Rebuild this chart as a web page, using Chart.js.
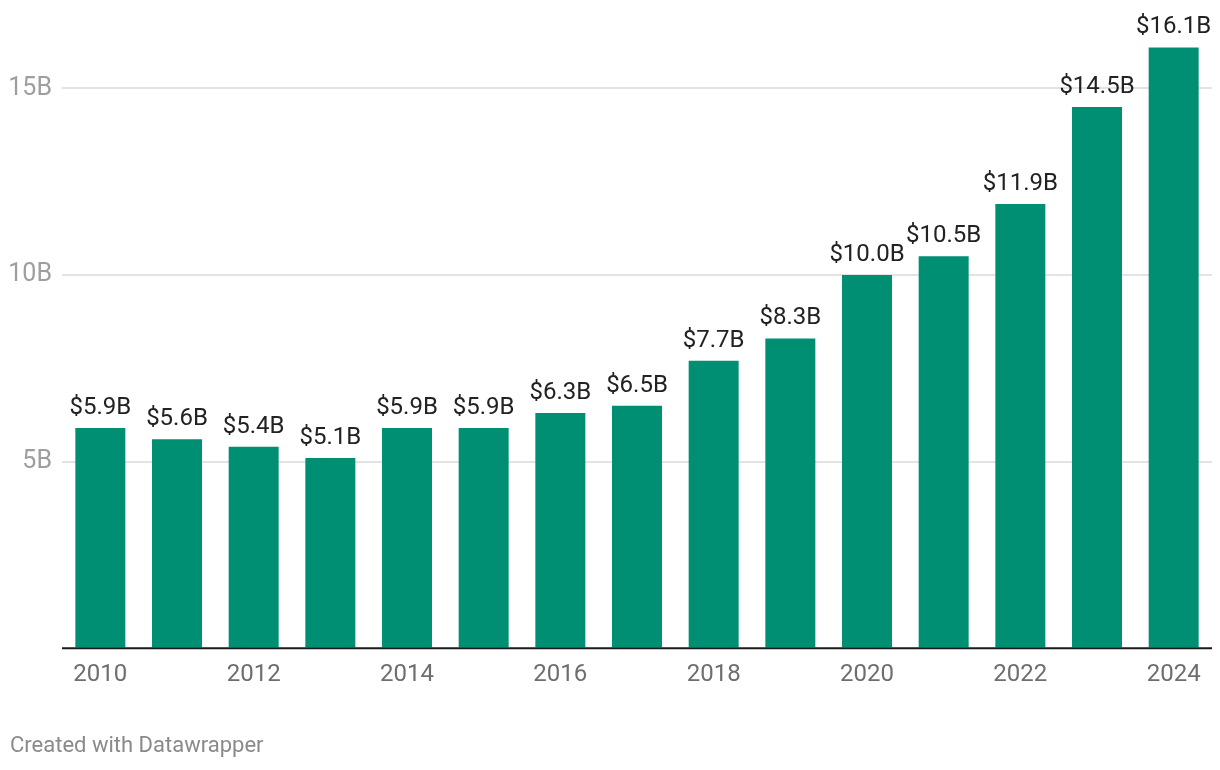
<!DOCTYPE html>
<html>
<head>
<meta charset="utf-8">
<script src="https://cdn.jsdelivr.net/npm/chart.js@4"></script>
<style>
  html, body { margin: 0; padding: 0; background: #fff; }
  #wrap { position: relative; width: 1220px; height: 770px; }
  #footer { position: absolute; left: 10px; top: 732px; font-family: Roboto, sans-serif; font-size: 22px; color: #8a8a8a; }
</style>
</head>
<body>
<div id="wrap">
  <canvas id="c" width="1220" height="770"></canvas>
  <div id="footer">Created with Datawrapper</div>
</div>
<script>
const years = ['2010','2011','2012','2013','2014','2015','2016','2017','2018','2019','2020','2021','2022','2023','2024'];
const revenue = [5.9, 5.6, 5.4, 5.1, 5.9, 5.9, 6.3, 6.5, 7.7, 8.3, 10.0, 10.5, 11.9, 14.5, 16.1];
const valueLabels = ['$5.9B','$5.6B','$5.4B','$5.1B','$5.9B','$5.9B','$6.3B','$6.5B','$7.7B','$8.3B','$10.0B','$10.5B','$11.9B','$14.5B','$16.1B'];
const yTicks = [0, 5, 10, 15];

const valuePlugin = {
  id: 'valueLabels',
  afterDatasetsDraw(chart) {
    const ctx = chart.ctx;
    const meta = chart.getDatasetMeta(0);
    ctx.save();
    ctx.font = '24px Roboto';
    ctx.fillStyle = '#222';
    ctx.textAlign = 'center';
    ctx.textBaseline = 'alphabetic';
    meta.data.forEach((bar, i) => {
      ctx.fillText(valueLabels[i], bar.x, bar.y - 14);
    });
    const y0 = chart.scales.y.getPixelForValue(0);
    ctx.strokeStyle = '#1a1a1a';
    ctx.lineWidth = 2;
    ctx.beginPath();
    ctx.moveTo(chart.chartArea.left, y0);
    ctx.lineTo(chart.chartArea.right, y0);
    ctx.stroke();
    ctx.restore();
  }
};

new Chart(document.getElementById('c'), {
  type: 'bar',
  data: {
    labels: years,
    datasets: [{
      data: revenue,
      backgroundColor: '#008f72',
      barPercentage: 0.652,
      categoryPercentage: 1.0
    }]
  },
  options: {
    responsive: false,
    animation: false,
    layout: { padding: { left: 10, right: 8, top: 3, bottom: 69 } },
    plugins: { legend: { display: false }, tooltip: { enabled: false } },
    scales: {
      x: {
        grid: { display: false, drawTicks: false },
        border: { display: false },
        ticks: {
          autoSkip: false,
          maxRotation: 0,
          padding: 12,
          color: '#6e6e6e',
          font: { family: 'Roboto', size: 24 },
          callback: function(v, i) { return i % 2 === 0 ? years[i] : ''; }
        }
      },
      y: {
        min: 0,
        max: 16.7,
        afterBuildTicks: (scale) => { scale.ticks = yTicks.map(v => ({ value: v })); },
        afterFit: (scale) => { scale.width = 52; },
        grid: {
          drawTicks: false,
          color: (ctx) => ctx.tick && ctx.tick.value === 0 ? 'rgba(0,0,0,0)' : '#e3e3e3',
          lineWidth: 2
        },
        border: { display: false },
        ticks: {
          padding: 10,
          color: '#9e9e9e',
          font: { family: 'Roboto', size: 25 },
          callback: (v) => v === 0 ? '' : v + 'B'
        }
      }
    }
  },
  plugins: [valuePlugin]
});
</script>
</body>
</html>
